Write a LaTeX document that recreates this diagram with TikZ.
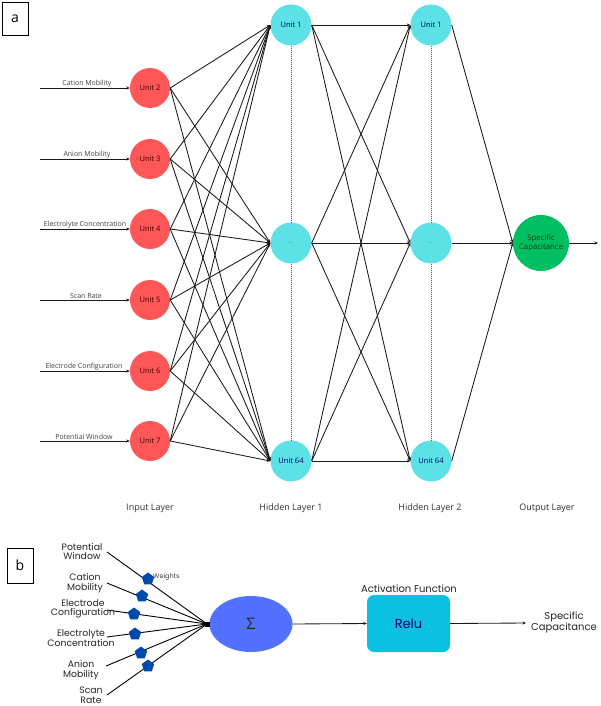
\documentclass[tikz,border=0pt]{standalone}
\usepackage{fontspec}
\setmainfont{Open Sans}
\newfontfamily\bfont{Poppins}
\usetikzlibrary{arrows.meta,shapes.geometric,calc}
\definecolor{inred}{HTML}{FF5757}
\definecolor{hidcyan}{HTML}{5CE1E6}
\definecolor{outgreen}{HTML}{00BF63}
\definecolor{sigblue}{HTML}{5271FF}
\definecolor{relucyan}{HTML}{0CC0DF}
\definecolor{wblue}{HTML}{004AAD}
\tikzset{
  x=1pt,y=-1pt,
  tip/.style={-{Stealth[length=3.5pt,width=3pt]}},
  conn/.style={tip,line width=0.85pt,black!90},
  inunit/.style={circle,fill=inred,draw=none,minimum size=40pt,inner sep=0pt,font=\fontsize{7.5}{8}\selectfont,text=black!75!red},
  hidunit/.style={circle,fill=hidcyan,draw=none,minimum size=41pt,inner sep=0pt,font=\fontsize{7.5}{8}\selectfont,text=blue!40!black},
  outunit/.style={circle,fill=outgreen,draw=none,minimum size=56pt,inner sep=0pt,align=center,font=\fontsize{7.8}{9.5}\selectfont,text=green!25!black},
  inlabel/.style={font=\fontsize{7}{7}\selectfont,text=black!75,anchor=south,inner sep=1pt},
  layerlabel/.style={font=\fontsize{9}{10}\selectfont,text=black!80},
  dotline/.style={dashed,dash pattern=on 1.2pt off 0.8pt,line width=0.8pt,black!65},
  panelbox/.style={draw,line width=0.8pt,minimum width=26pt,minimum height=33pt,font=\fontsize{14}{14}\selectfont},
  blabel/.style={font=\bfont\fontsize{9.3}{9.6}\selectfont,align=center,text=black!85,inner sep=0pt},
  weight/.style={regular polygon,regular polygon sides=5,fill=wblue,draw=none,minimum size=13pt,inner sep=0pt},
  wline/.style={line width=0.9pt,black},
}
\begin{document}
\begin{tikzpicture}
\useasboundingbox (0,0) rectangle (600,706);
\fill[white] (0,0) rectangle (600,706);
% ---------------- panel a ----------------
\node[panelbox] (pa) at (15,18.5) {a};
% input units
\foreach \n/\y in {2/88,3/159,4/229,5/300,6/371,7/441}{
  \node[inunit] (i\n) at (150,\y) {Unit \n};
  \coordinate (s\n) at (40,\y);
  \draw[conn] (s\n) -- (i\n.west);
}
\node[inlabel] (l2) at (87,88) {Cation Mobility};
\node[inlabel] (l3) at (87,159) {Anion Mobility};
\node[inlabel] (l4) at (85,229) {Electrolyte Concentration};
\node[inlabel] (l5) at (86,300) {Scan Rate};
\node[inlabel] (l6) at (84,371) {Electrode Configuration};
\node[inlabel] (l7) at (84,441) {Potential Window};
% hidden layers
\node[hidunit] (ha) at (291,25) {Unit 1};
\node[hidunit,font=\fontsize{4}{4}\selectfont] (hb) at (291,243) {...};
\node[hidunit] (hc) at (291,461) {Unit 64};
\node[hidunit] (ka) at (431,25) {Unit 1};
\node[hidunit,font=\fontsize{4}{4}\selectfont] (kb) at (431,243) {...};
\node[hidunit] (kc) at (431,461) {Unit 64};
\node[outunit] (o) at (541,243) {Specific\\Capacitance};
\coordinate (oend) at (598,243);
% dashed verticals
\draw[dotline] (ha.south) -- (hb.north);
\draw[dotline] (hb.south) -- (hc.north);
\draw[dotline] (ka.south) -- (kb.north);
\draw[dotline] (kb.south) -- (kc.north);
% connections
\foreach \n in {2,3,4,5,6,7}{
  \foreach \h in {ha,hb,hc}{
    \draw[conn] (i\n.east) -- (\h.west);
  }
}
\foreach \h in {ha,hb,hc}{
  \foreach \k in {ka,kb,kc}{
    \draw[conn] (\h.east) -- (\k.west);
  }
}
\foreach \k in {ka,kb,kc}{
  \draw[conn] (\k.east) -- (o.west);
}
\draw[conn] (o.east) -- (oend);
% layer labels
\node[layerlabel] (la) at (150,508) {Input Layer};
\node[layerlabel] (lb) at (291,508) {Hidden Layer 1};
\node[layerlabel] (lc) at (430,508) {Hidden Layer 2};
\node[layerlabel] (ld) at (547,508) {Output Layer};
% ---------------- panel b ----------------
\node[panelbox,minimum height=35pt] (pb) at (20,565.5) {b};
\coordinate (junc) at (207,624);
\node[ellipse,fill=sigblue,minimum width=83pt,minimum height=56pt,inner sep=0pt,font=\fontsize{16}{16}\selectfont,text=black!85] (sig) at (251,624) {Σ};
% input lines
\coordinate (p1) at (107,552);
\coordinate (p2) at (107,583);
\coordinate (p3) at (107,610);
\coordinate (p4) at (107,637);
\coordinate (p5) at (106,666);
\coordinate (p6) at (107,695);
\foreach \p in {p1,p2,p3,p4,p5,p6}{
  \draw[wline] (\p) -- (junc);
}
\fill[black] ($(junc)+(-2.5,-2.5)$) rectangle ($(junc)+(2.5,2.5)$);
\node[weight] (w1) at (148,579) {};
\node[weight] (w2) at (142,596) {};
\node[weight] (w3) at (134,614) {};
\node[weight] (w4) at (135,634) {};
\node[weight] (w5) at (141,653) {};
\node[weight] (w6) at (148,666) {};
\node[font=\bfont\fontsize{6.5}{7}\selectfont,text=black!75,anchor=west,inner sep=0pt] (wl) at (153,577) {Weights};
\node[blabel] (t1) at (82,551.5) {Potential\\Window};
\node[blabel] (t2) at (85,583) {Cation\\Mobility};
\node[blabel] (t3) at (83,609) {Electrode\\Configuration};
\node[blabel] (t4) at (81,638) {Electrolyte\\Concentration};
\node[blabel] (t5) at (81,670) {Anion\\Mobility};
\node[blabel] (t6) at (91,695.5) {Scan\\Rate};
% relu
\node[rounded corners=7pt,fill=relucyan,minimum width=83pt,minimum height=57pt,inner sep=0pt,font=\bfont\fontsize{13}{13}\selectfont,text=blue!45!black] (relu) at (408.5,623.5) {Relu};
\node[blabel,font=\bfont\fontsize{10}{10}\selectfont] (af) at (409,589) {Activation Function};
\coordinate (outb) at (526,623);
\node[blabel,font=\bfont\fontsize{10}{11}\selectfont] (sc) at (564,622) {Specific\\Capacitance};
\draw[conn] (sig.east) -- (relu.west);
\draw[conn] (relu.east) -- (outb);
\end{tikzpicture}
\end{document}
